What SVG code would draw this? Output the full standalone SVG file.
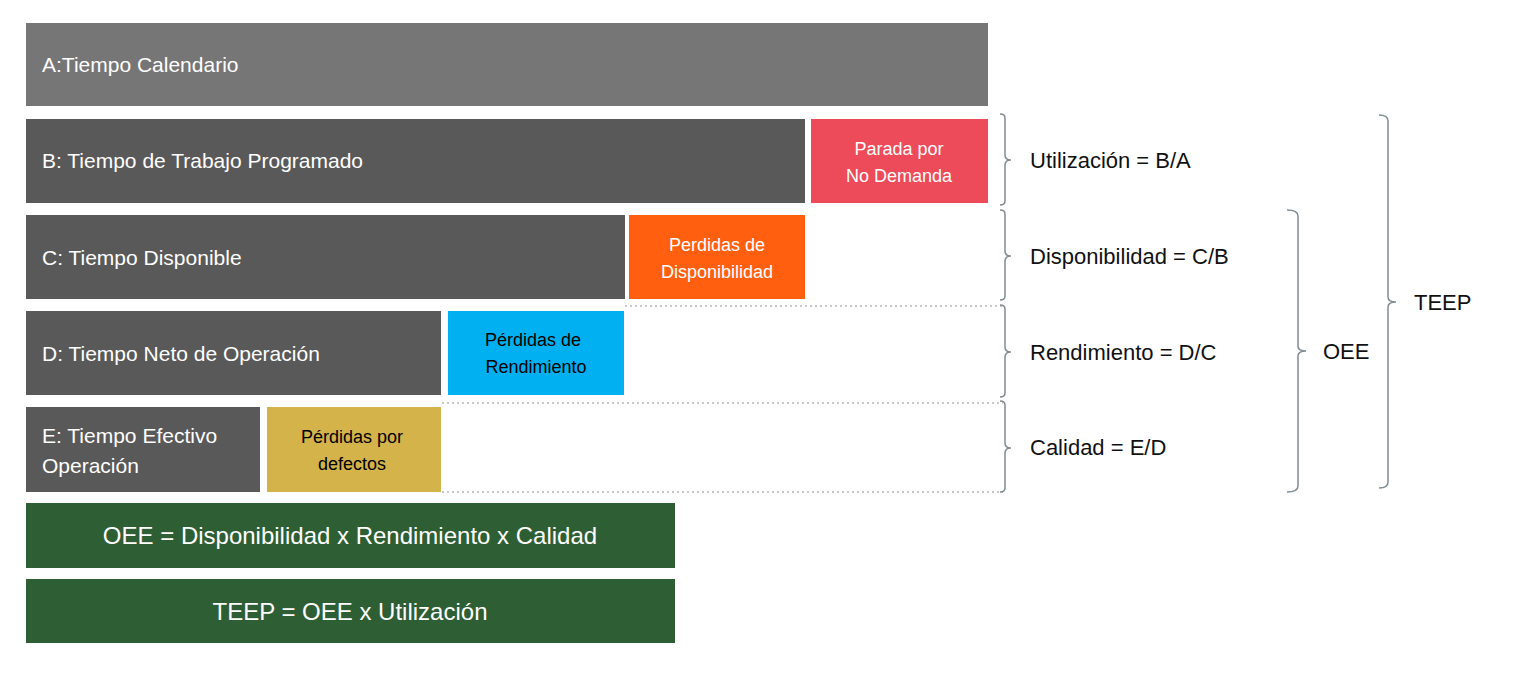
<svg xmlns="http://www.w3.org/2000/svg" width="1537" height="678" viewBox="0 0 1537 678">
<style>
text{font-family:"Liberation Sans",Arial,sans-serif;}
.lbl{font-size:21px;fill:#fff;}
.sm{font-size:18px;text-anchor:middle;}
.eq{font-size:22px;fill:#111;}
.br{fill:none;stroke:#7f8c93;stroke-width:1.5;}
.dot{stroke:#c8c8c8;stroke-width:2;stroke-dasharray:2 3;}
</style>
<rect width="1537" height="678" fill="#fff"/>
<g id="connectors">
<line class="dot" x1="625" y1="306" x2="1003" y2="306"/>
<line class="dot" x1="442" y1="403" x2="1003" y2="403"/>
<line class="dot" x1="442" y1="492" x2="1003" y2="492"/>
<path class="br" d="M1000,114 Q1005,114 1005,118 V155 Q1005,160 1011,160 Q1005,160 1005,165 V201 Q1005,205 1000,205"/>
<path class="br" d="M1000,210 Q1005,210 1005,214 V251 Q1005,256 1011,256 Q1005,256 1005,261 V296 Q1005,300 1000,300"/>
<path class="br" d="M1000,305 Q1005,305 1005,309 V347 Q1005,352 1011,352 Q1005,352 1005,357 V393 Q1005,397 1000,397"/>
<path class="br" d="M1000,401 Q1005,401 1005,405 V443 Q1005,448 1011,448 Q1005,448 1005,453 V488 Q1005,492 1000,492"/>
<path class="br" d="M1287,210 Q1298,210 1298,216 V346 Q1298,351 1306,351 Q1298,351 1298,356 V486 Q1298,492 1287,492"/>
<path class="br" d="M1379,115 Q1388,115 1388,121 V297 Q1388,302 1396,302 Q1388,302 1388,307 V482 Q1388,488 1379,488"/>
</g>
<g id="A"><rect x="26" y="23" width="962" height="83" fill="#767676"/><text class="lbl" x="42" y="72">A:Tiempo Calendario</text></g>
<g id="B"><rect x="26" y="119" width="779" height="84" fill="#595959"/><text class="lbl" x="42" y="168">B: Tiempo de Trabajo Programado</text></g>
<g id="parada"><rect x="811" y="119" width="177" height="84" fill="#ee4b5a"/><text class="sm" x="899" y="155" fill="#fff">Parada por</text><text class="sm" x="899" y="182" fill="#fff">No Demanda</text></g>
<g id="C"><rect x="26" y="215" width="599" height="84" fill="#595959"/><text class="lbl" x="42" y="265">C: Tiempo Disponible</text></g>
<g id="perdDisp"><rect x="629" y="215" width="176" height="84" fill="#ff5f0f"/><text class="sm" x="717" y="251" fill="#fff">Perdidas de</text><text class="sm" x="717" y="278" fill="#fff">Disponibilidad</text></g>
<g id="D"><rect x="26" y="311" width="415" height="84" fill="#595959"/><text class="lbl" x="42" y="361">D: Tiempo Neto de Operación</text></g>
<g id="perdRend"><rect x="448" y="311" width="176" height="84" fill="#00b0f0"/><text class="sm" x="533" y="346" fill="#000">Pérdidas de</text><text class="sm" x="536" y="373" fill="#000">Rendimiento</text></g>
<g id="E"><rect x="26" y="407" width="234" height="85" fill="#595959"/><text class="lbl" x="42" y="443">E: Tiempo Efectivo</text><text class="lbl" x="42" y="473">Operación</text></g>
<g id="perdDef"><rect x="267" y="407" width="174" height="85" fill="#d4b44a"/><text class="sm" x="352" y="443" fill="#000">Pérdidas por</text><text class="sm" x="352" y="470" fill="#000">defectos</text></g>
<g id="oeeF"><rect x="26" y="503" width="649" height="65" fill="#2e5e34"/><text x="350" y="544" font-size="24" fill="#fff" text-anchor="middle">OEE = Disponibilidad x Rendimiento x Calidad</text></g>
<g id="teepF"><rect x="26" y="579" width="649" height="64" fill="#2e5e34"/><text x="350" y="620" font-size="24" fill="#fff" text-anchor="middle">TEEP = OEE x Utilización</text></g>
<g id="util"><text class="eq" x="1030" y="168">Utilización = B/A</text></g>
<g id="disp"><text class="eq" x="1030" y="264">Disponibilidad = C/B</text></g>
<g id="rend"><text class="eq" x="1030" y="360">Rendimiento = D/C</text></g>
<g id="cal"><text class="eq" x="1030" y="455">Calidad = E/D</text></g>
<g id="OEE"><text class="eq" x="1323" y="359">OEE</text></g>
<g id="TEEP"><text class="eq" x="1414" y="310">TEEP</text></g>
</svg>
